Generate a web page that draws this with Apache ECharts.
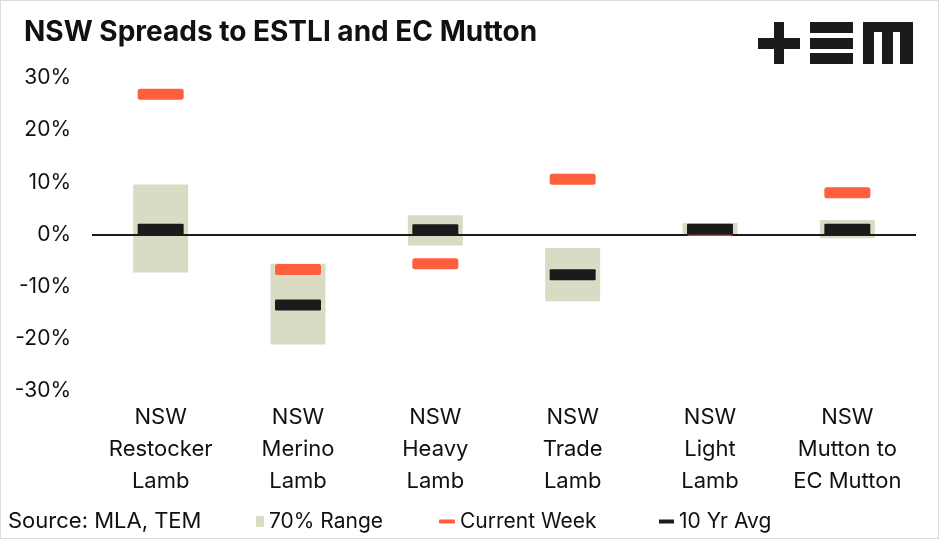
<!DOCTYPE html>
<html>
<head>
<meta charset="utf-8">
<script src="https://cdn.jsdelivr.net/npm/echarts@6/dist/echarts.min.js"></script>
<style>
html,body{margin:0;padding:0;background:#fff;}
#chart{width:939px;height:539px;box-sizing:border-box;border:1px solid #dcdcdc;}
</style>
</head>
<body>
<div id="chart"></div>
<script>
const categories = ['NSW\nRestocker\nLamb', 'NSW\nMerino\nLamb', 'NSW\nHeavy\nLamb', 'NSW\nTrade\nLamb', 'NSW\nLight\nLamb', 'NSW\nMutton to\nEC Mutton'];
const rangeLow = [-7.3, -21.1, -2.1, -12.8, -0.1, -0.7];
const rangeHigh = [9.6, -5.6, 3.7, -2.6, 2.2, 2.8];
const currentWeek = [26.9, -6.7, -5.6, 10.6, 0.8, 8.0];
const tenYrAvg = [1.0, -13.5, 0.9, -7.7, 1.0, 1.0];
const yTicks = { min: -30, max: 30, interval: 10 };

const FONT = 'Inter';
const BEIGE = '#d9dbc5';
const RED = '#ff5f3c';
const BLACK = '#1b1b1b';
const RED_SYM = 'path://M2.5,0H43.5Q46,0 46,2.5V8.5Q46,11 43.5,11H2.5Q0,11 0,8.5V2.5Q0,0 2.5,0Z';
const BLK_SYM = 'path://M1.2,0H44.8Q46,0 46,1.2V9.8Q46,11 44.8,11H1.2Q0,11 0,9.8V1.2Q0,0 1.2,0Z';

const chart = echarts.init(document.getElementById('chart'), null, { renderer: 'canvas' });

const legendText = { fontFamily: FONT, fontSize: 21, color: '#111' };

chart.setOption({
  animation: false,
  backgroundColor: '#fff',
  title: {
    text: 'NSW Spreads to ESTLI and EC Mutton',
    left: 23, top: 16, padding: 0,
    textStyle: { fontFamily: FONT, fontWeight: 'bold', fontSize: 28, color: '#111', lineHeight: 32 }
  },
  grid: { left: 91, right: 22, top: 77, bottom: 147, containLabel: false },
  xAxis: {
    type: 'category',
    data: categories,
    axisLine: { show: false, onZero: false },
    axisTick: { show: false },
    splitLine: { show: false },
    axisLabel: {
      interval: 0, margin: 10,
      fontFamily: FONT, fontSize: 22, color: '#111', lineHeight: 32, align: 'center'
    }
  },
  yAxis: {
    type: 'value',
    min: yTicks.min, max: yTicks.max, interval: yTicks.interval,
    axisLine: { show: false },
    axisTick: { show: false },
    splitLine: { show: false },
    axisLabel: {
      formatter: '{value}%', margin: 21,
      fontFamily: FONT, fontSize: 21, color: '#111'
    }
  },
  legend: [
    { data: [{ name: '70% Range', icon: 'rect' }], left: 255, top: 510, padding: 0, itemWidth: 8, itemHeight: 11, textStyle: legendText, selectedMode: false },
    { data: [{ name: 'Current Week', icon: RED_SYM }], left: 438, top: 510, padding: 0, itemWidth: 16, itemHeight: 5, textStyle: legendText, selectedMode: false },
    { data: [{ name: '10 Yr Avg', icon: 'rect' }], left: 658, top: 510, padding: 0, itemWidth: 15, itemHeight: 4, textStyle: legendText, selectedMode: false }
  ],
  graphic: [
    { type: 'text', left: 7, top: 509, style: { text: 'Source: MLA, TEM', fontFamily: FONT, fontSize: 22, fill: '#111' } },
    // logo "+EM"
    { type: 'group', left: 757, top: 21, children: [
      { type: 'rect', shape: { x: 0, y: 16, width: 42, height: 11 }, style: { fill: BLACK } },
      { type: 'rect', shape: { x: 16, y: 0, width: 10, height: 42 }, style: { fill: BLACK } },
      { type: 'rect', shape: { x: 52, y: 0, width: 43, height: 11 }, style: { fill: BLACK } },
      { type: 'rect', shape: { x: 52, y: 16, width: 43, height: 11 }, style: { fill: BLACK } },
      { type: 'rect', shape: { x: 52, y: 31, width: 43, height: 11 }, style: { fill: BLACK } },
      { type: 'rect', shape: { x: 105, y: 0, width: 50, height: 10 }, style: { fill: BLACK } },
      { type: 'rect', shape: { x: 105, y: 0, width: 11, height: 42 }, style: { fill: BLACK } },
      { type: 'rect', shape: { x: 124, y: 0, width: 11, height: 42 }, style: { fill: BLACK } },
      { type: 'rect', shape: { x: 142, y: 0, width: 13, height: 42 }, style: { fill: BLACK } }
    ] }
  ],
  series: [
    {
      name: '70% Range',
      type: 'custom',
      itemStyle: { color: BEIGE },
      data: categories.map((c, i) => [i, rangeLow[i], rangeHigh[i]]),
      encode: { x: 0, y: [1, 2] },
      renderItem: function (params, api) {
        const x = api.value(0);
        const top = api.coord([x, api.value(2)]);
        const bot = api.coord([x, api.value(1)]);
        const w = api.size([1, 0])[0] * 0.4;
        return {
          type: 'rect',
          shape: { x: top[0] - w / 2, y: top[1], width: w, height: bot[1] - top[1] },
          style: { fill: BEIGE }
        };
      },
      z: 1
    },
    {
      name: 'Current Week',
      type: 'scatter',
      data: currentWeek,
      symbol: RED_SYM,
      symbolSize: [46, 11],
      itemStyle: { color: RED, opacity: 1 },
      z: 3,
      markLine: {
        silent: true,
        symbol: ['none', 'none'],
        label: { show: false },
        lineStyle: { color: BLACK, width: 2, type: 'solid' },
        data: [{ yAxis: 0 }],
        z: 2
      }
    },
    {
      name: '10 Yr Avg',
      type: 'scatter',
      data: tenYrAvg,
      symbol: BLK_SYM,
      symbolSize: [46, 11],
      itemStyle: { color: BLACK, opacity: 1 },
      z: 4
    }
  ]
});
</script>
</body>
</html>
